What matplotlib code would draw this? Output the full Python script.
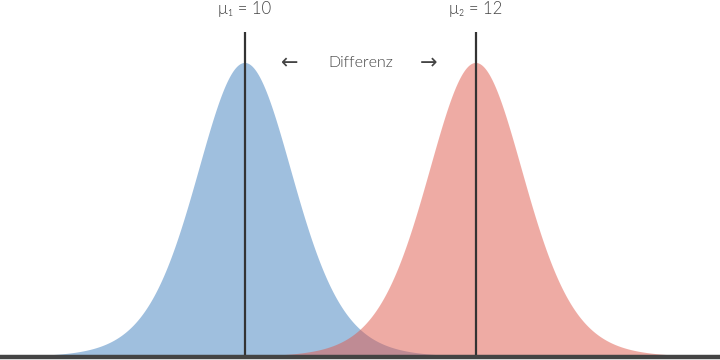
import numpy as np
import matplotlib
matplotlib.use("Agg")
import matplotlib.pyplot as plt

means = [10, 12]
scales = [0.43, 0.43]
dof = 10
labels = ["μ₁ = 10", "μ₂ = 12"]
colors = ["#9fbfde", "#df594b"]
alphas = [1.0, 0.5]
diff_label = "Differenz"

plt.rcParams['font.family'] = ['Lato', 'DejaVu Sans']

fig = plt.figure(figsize=(7.2, 3.6), dpi=100)
ax = fig.add_axes([0, 0, 1, 1])
x = np.linspace(7.85, 14.15, 1500)
for m, s, c, a in zip(means, scales, colors, alphas):
    z = (x - m) / s
    y = (1 + z ** 2 / dof) ** (-(dof + 1) / 2)
    ax.fill_between(x, 0, y, color=c, alpha=a, lw=0, zorder=2)
for m, lab in zip(means, labels):
    ax.plot([m, m], [0, 1.105], color="#333333", lw=1.6, zorder=4, solid_capstyle='butt')
    ax.text(m, 1.183, lab, ha='center', va='center', fontsize=12, color="#444444",
            fontweight=300)
mid = (means[0] + means[1]) / 2
ax.text(mid, 1.0, diff_label, ha='center', va='center', fontsize=11.5, color="#444444",
        fontweight=300)
ax.text(mid - 0.61, 1.0, "←", ha='center', va='center', fontsize=15, color="#444444",
        family=['DejaVu Sans'])
ax.text(mid + 0.59, 1.0, "→", ha='center', va='center', fontsize=15, color="#444444",
        family=['DejaVu Sans'])
ax.axhline(0, color="#444444", lw=3.2, zorder=5)
ax.set_xlim(7.879, 14.113)
ax.set_ylim(-0.0102, 1.214)
ax.axis('off')
fig.savefig("out.png", dpi=100)
